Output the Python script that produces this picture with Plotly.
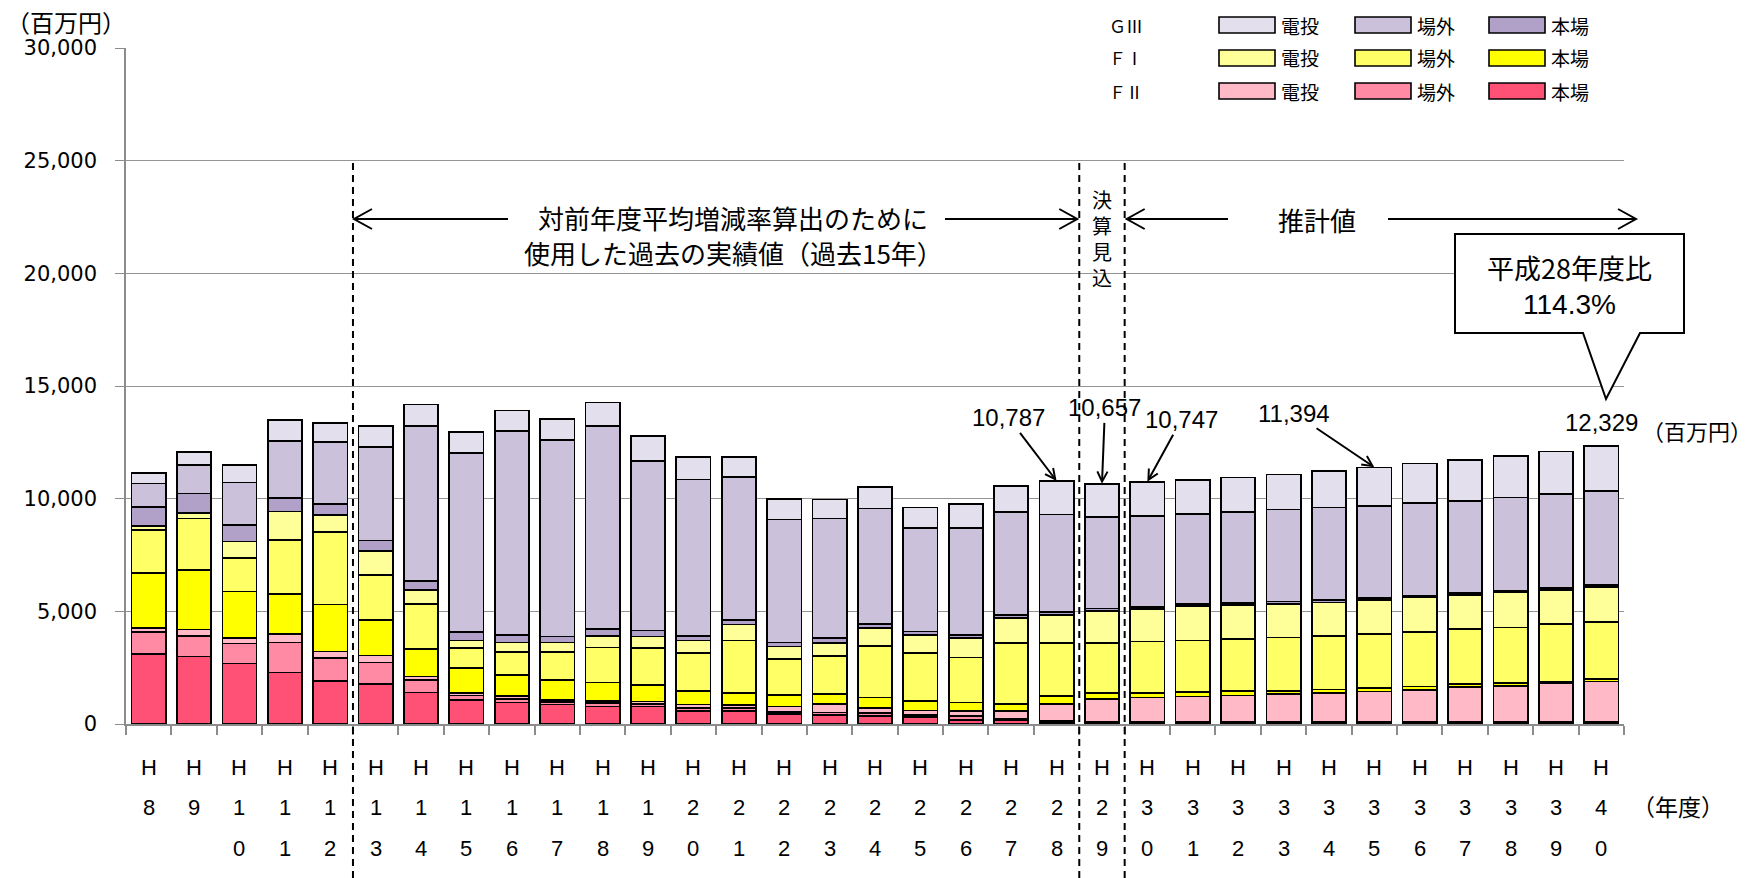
import plotly.graph_objects as go

# ---------------- data ----------------
years = ["H8", "H9", "H10", "H11", "H12", "H13", "H14", "H15", "H16", "H17", "H18",
         "H19", "H20", "H21", "H22", "H23", "H24", "H25", "H26", "H27", "H28", "H29",
         "H30", "H31", "H32", "H33", "H34", "H35", "H36", "H37", "H38", "H39", "H40"]

fii_honba = [3110, 2990, 2690, 2290, 1920, 1770, 1400, 1080, 960, 860, 780, 780, 590, 590, 440, 410, 370,
             300, 190, 150, 90, 60, 50, 45, 40, 40, 35, 35, 30, 30, 30, 25, 25]
fii_jogai = [980, 930, 885, 1330, 1000, 960, 560, 180, 150, 120, 150, 120, 120, 120, 90, 100, 120,
             90, 150, 70, 30, 40, 50, 50, 50, 50, 50, 50, 50, 50, 50, 50, 50]
fii_denpyo = [160, 280, 240, 370, 300, 310, 150, 120, 120, 100, 100, 100, 150, 120, 250, 370, 220,
              210, 250, 370, 770, 1020, 1080, 1130, 1180, 1240, 1290, 1360, 1440, 1560, 1620, 1740, 1810]
fi_honba = [2460, 2630, 2070, 1780, 2090, 1580, 1210, 1090, 960, 860, 810, 720, 590, 550, 520, 460, 470,
            410, 370, 300, 340, 250, 190, 190, 190, 150, 150, 150, 150, 120, 120, 75, 100]
fi_jogai = [1890, 2290, 1480, 2390, 3200, 1990, 2010, 900, 990, 1240, 1550, 1640, 1700, 2320, 1580, 1680, 2290,
            2140, 1990, 2700, 2360, 2240, 2290, 2290, 2300, 2360, 2390, 2400, 2400, 2450, 2460, 2540, 2550]
fi_denpyo = [180, 250, 740, 1270, 750, 1060, 620, 340, 440, 440, 520, 520, 550, 710, 560, 590, 780,
             810, 860, 1110, 1250, 1420, 1430, 1530, 1520, 1490, 1480, 1510, 1550, 1520, 1550, 1520, 1550]
giii_honba = [860, 860, 720, 610, 500, 470, 400, 370, 320, 270, 320, 270, 220, 220, 180, 210, 180,
              150, 150, 150, 120, 90, 90, 90, 75, 100, 120, 75, 75, 75, 75, 75, 75]
giii_jogai = [1030, 1250, 1890, 2510, 2770, 4150, 6860, 7950, 9060, 8700, 8980, 7510, 6930, 6340, 5460, 5300, 5130,
              4600, 4750, 4560, 4340, 4070, 4060, 4010, 4060, 4090, 4090, 4100, 4120, 4100, 4150, 4170, 4170]
giii_denpyo = [470, 600, 770, 930, 840, 940, 970, 930, 910, 960, 1060, 1110, 1000, 890, 920, 840, 960,
               900, 1050, 1150, 1490, 1470, 1510, 1500, 1520, 1550, 1620, 1710, 1740, 1800, 1830, 1900, 2000]

grades = ["ＦⅡ", "ＦⅠ", "ＧⅢ"]
kinds = ["本場", "場外", "電投"]
series_values = [fii_honba, fii_jogai, fii_denpyo,
                 fi_honba, fi_jogai, fi_denpyo,
                 giii_honba, giii_jogai, giii_denpyo]
series_colors = ["#FF5076", "#FF8AA3", "#FFB9C7",
                 "#FFFF00", "#FFFF66", "#FFFF99",
                 "#B1A0C7", "#CCC1DA", "#E4DFEC"]

label_years = ["H28", "H29", "H30", "H35", "H40"]
label_values = [10787, 10657, 10747, 11394, 12329]
label_offsets = [(-48, -63), (3, -76), (34, -62), (-80, -54), (0, -24)]

y_ticks = [0, 5000, 10000, 15000, 20000, 25000, 30000]

# ---------------- geometry ----------------
W, H = 1757, 878
L, R, T, B = 126, 1624, 48, 724
YMAX = 30000
CJK = "Noto Sans CJK JP"
LAT = "Liberation Sans, Noto Sans CJK JP"


def px(x):
    return (x - L) / (R - L)


def py(y):
    return (B - y) / (B - T)


fig = go.Figure()
k = 0
for g in grades:
    for kind in kinds:
        fig.add_trace(go.Bar(
            x=years, y=series_values[k], name=f"{g} {kind}",
            marker=dict(color=series_colors[k], line=dict(color="black", width=1.7)),
            showlegend=False,
        ))
        k += 1

shapes = []
annotations = []

# dashed separators at category boundaries
for cat in ["H13", "H29", "H30"]:
    xb = years.index(cat) - 0.5
    shapes.append(dict(type="line", xref="x", yref="paper", x0=xb, x1=xb,
                       y0=py(H), y1=25000 / YMAX,
                       line=dict(color="black", width=2, dash="7px,5px"), layer="above"))


def harrow(x0, x1, y, head_left):
    shapes.append(dict(type="line", xref="paper", yref="paper", x0=px(x0), x1=px(x1),
                       y0=py(y), y1=py(y), line=dict(color="black", width=2)))
    tip = x0 if head_left else x1
    d = 18 if head_left else -18
    path = f"M{px(tip + d)},{py(y - 10)} L{px(tip)},{py(y)} L{px(tip + d)},{py(y + 10)}"
    shapes.append(dict(type="path", xref="paper", yref="paper", path=path,
                       line=dict(color="black", width=2)))


cw = (R - L) / len(years)
b1 = L + years.index("H13") * cw
b2 = L + years.index("H29") * cw
b3 = L + years.index("H30") * cw
harrow(b1 + 1, 508, 219, True)
harrow(945, b2 - 2, 219, False)
harrow(b3 + 2, 1228, 219, True)
harrow(1388, 1636, 219, False)

# callout
cx0, cx1, cy0, cy1 = 1455, 1684, 234, 333
callout = (f"M{px(cx0)},{py(cy0)} L{px(cx1)},{py(cy0)} L{px(cx1)},{py(cy1)} "
           f"L{px(1640)},{py(cy1)} L{px(1606)},{py(399)} L{px(1583)},{py(cy1)} "
           f"L{px(cx0)},{py(cy1)} Z")
shapes.append(dict(type="path", xref="paper", yref="paper", path=callout,
                   fillcolor="white", line=dict(color="black", width=2), layer="above"))

# legend background & entries
shapes.append(dict(type="rect", xref="paper", yref="paper", x0=px(1100), x1=px(1622),
                   y0=py(110), y1=py(0), fillcolor="white", line=dict(width=0), layer="above"))
leg_rows = {"ＧⅢ": 25, "ＦⅠ": 58, "ＦⅡ": 91}
leg_cols = {"電投": 1219, "場外": 1355, "本場": 1489}
for gi, g in enumerate(grades):
    yy = leg_rows[g]
    annotations.append(dict(x=px(1107), y=py(yy), xref="paper", yref="paper", text=g,
                            showarrow=False, xanchor="left", yanchor="middle",
                            font=dict(family=CJK, size=17, color="black")))
    for ki, kind in enumerate(kinds):
        col = series_colors[gi * 3 + ki]
        xx = leg_cols[kind]
        shapes.append(dict(type="rect", xref="paper", yref="paper", x0=px(xx), x1=px(xx + 56),
                           y0=py(yy + 8), y1=py(yy - 8), fillcolor=col,
                           line=dict(color="black", width=1.6), layer="above"))
        annotations.append(dict(x=px(xx + 60), y=py(yy), xref="paper", yref="paper", text=kind,
                                showarrow=False, xanchor="left", yanchor="middle",
                                font=dict(family=CJK, size=19, color="black")))

# x tick labels (stacked characters)
for yr in years:
    for j, ch in enumerate(yr):
        annotations.append(dict(x=yr, y=0, xref="x", yref="paper", text=ch, showarrow=False,
                                yshift=-(43 + 40.5 * j), xanchor="center", yanchor="middle",
                                font=dict(family="Liberation Sans", size=22, color="black")))

# unit labels
annotations.append(dict(x=px(4), y=py(22), xref="paper", yref="paper", text="（百万円）",
                        showarrow=False, xanchor="left", yanchor="middle",
                        font=dict(family=CJK, size=24, color="black")))
annotations.append(dict(x=px(1630), y=py(806), xref="paper", yref="paper", text="（年度）",
                        showarrow=False, xanchor="left", yanchor="middle",
                        font=dict(family=CJK, size=23, color="black")))

# range texts
annotations.append(dict(x=px(733), y=py(217), xref="paper", yref="paper",
                        text="対前年度平均増減率算出のために", showarrow=False,
                        xanchor="center", yanchor="middle", font=dict(family=CJK, size=26, color="black")))
annotations.append(dict(x=px(733), y=py(252), xref="paper", yref="paper",
                        text="使用した過去の実績値（過去15年）", showarrow=False,
                        xanchor="center", yanchor="middle", font=dict(family=CJK, size=26, color="black")))
annotations.append(dict(x=years.index("H29"), y=py(238), xref="x", yref="paper",
                        text="<br>".join("決算見込"), showarrow=False, xanchor="center", yanchor="middle",
                        font=dict(family=CJK, size=20, color="black")))
annotations.append(dict(x=px(1317), y=py(219), xref="paper", yref="paper", text="推計値",
                        showarrow=False, xanchor="center", yanchor="middle",
                        font=dict(family=CJK, size=26, color="black")))

# callout text
annotations.append(dict(x=px(1569), y=py(267), xref="paper", yref="paper", text="平成28年度比",
                        showarrow=False, xanchor="center", yanchor="middle",
                        font=dict(family=CJK, size=27, color="black")))
annotations.append(dict(x=px(1569), y=py(304), xref="paper", yref="paper", text="114.3%",
                        showarrow=False, xanchor="center", yanchor="middle",
                        font=dict(family=LAT, size=28, color="black")))

# value labels
for yr, v, (ax, ay) in zip(label_years, label_values, label_offsets):
    if yr == "H40":
        annotations.append(dict(x=yr, y=v, xref="x", yref="y", text=f"{v:,}", showarrow=False,
                                yshift=-ay, xanchor="center", yanchor="middle",
                                font=dict(family=LAT, size=24, color="black")))
    else:
        annotations.append(dict(x=yr, y=v, xref="x", yref="y", text=f"{v:,}", showarrow=True,
                                ax=ax, ay=ay, arrowhead=5, arrowsize=1.0, arrowwidth=2,
                                arrowcolor="black", standoff=0,
                                font=dict(family=LAT, size=24, color="black")))
annotations.append(dict(x=px(1640), y=py(430), xref="paper", yref="paper", text="（百万円）",
                        showarrow=False, xanchor="left", yanchor="middle",
                        font=dict(family=CJK, size=22, color="black")))

fig.update_layout(
    barmode="stack",
    bargap=0.245,
    width=W, height=H,
    autosize=False,
    margin=dict(l=L, r=W - R, t=T, b=H - B, pad=0),
    plot_bgcolor="white", paper_bgcolor="white",
    shapes=shapes,
    annotations=annotations,
    showlegend=False,
    xaxis=dict(type="category", showticklabels=False, showgrid=False, zeroline=False,
               showline=True, linecolor="#8c8c8c", linewidth=1.5,
               ticks="outside", tickson="boundaries", ticklen=9, tickcolor="#8c8c8c", tickwidth=1.5,
               range=[-0.5, len(years) - 0.5]),
    yaxis=dict(range=[0, YMAX], tickvals=y_ticks, tickformat=",", showgrid=True,
               gridcolor="#959595", gridwidth=1.4, zeroline=False,
               showline=True, linecolor="#8c8c8c", linewidth=1.5,
               ticks="outside", ticklen=9, tickcolor="#8c8c8c", tickwidth=1.4,
               ticklabelstandoff=14,
               tickfont=dict(family="DejaVu Sans", size=21, color="black")),
)

fig.write_html("out.html")
